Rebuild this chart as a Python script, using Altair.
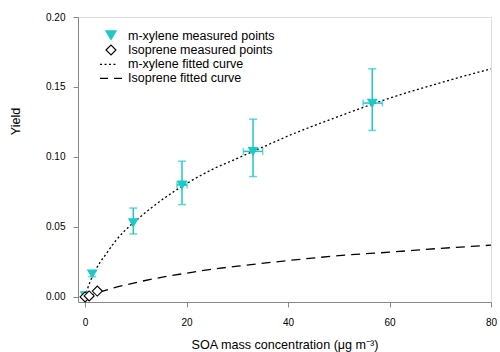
import altair as alt
import pandas as pd

FONT = "Liberation Sans"
CY = "#1cc9c9"

series = ["m-xylene measured points", "Isoprene measured points",
          "m-xylene fitted curve", "Isoprene fitted curve"]

# m-xylene measured points with error bars
mx_x = [0.0, 1.4, 9.5, 19.1, 33.1, 56.6]
mx_y = [0.001, 0.0165, 0.053, 0.080, 0.104, 0.1385]
mx_ylo = [0.0, 0.0145, 0.045, 0.066, 0.086, 0.119]
mx_yhi = [0.002, 0.0185, 0.0635, 0.097, 0.127, 0.163]
mx_xlo = [0.0, 1.4, 9.5, 18.1, 31.2, 54.8]
mx_xhi = [0.0, 1.4, 9.5, 20.1, 35.0, 58.6]

# Isoprene measured points
iso_x = [0.0, 0.8, 2.4]
iso_y = [0.0, 0.0007, 0.0042]

# fitted curves
mxc_x = [0, 0.5, 1, 2, 3, 4, 6, 8, 10, 15, 20, 25, 30, 35, 40, 50, 60, 70, 80]
mxc_y = [0, 0.006, 0.011, 0.019, 0.025, 0.030, 0.040, 0.048, 0.0545, 0.069, 0.081,
         0.091, 0.099, 0.107, 0.115, 0.129, 0.142, 0.153, 0.163]
isc_x = [0, 1, 2, 3, 5, 7.5, 10, 15, 20, 25, 30, 40, 50, 60, 70, 80]
isc_y = [0, 0.0012, 0.0025, 0.0037, 0.0058, 0.0082, 0.0103, 0.014, 0.017, 0.0198,
         0.022, 0.026, 0.0295, 0.032, 0.0347, 0.037]

pts = pd.DataFrame({
    "x": mx_x + iso_x,
    "y": mx_y + iso_y,
    "series": [series[0]] * len(mx_x) + [series[1]] * len(iso_x),
})
err = pd.DataFrame({"x": mx_x, "y": mx_y, "ylo": mx_ylo, "yhi": mx_yhi,
                    "xlo": mx_xlo, "xhi": mx_xhi})
xerr = err[err["xhi"] - err["xlo"] > 0.5]
curves = pd.DataFrame({
    "x": mxc_x + isc_x,
    "y": mxc_y + isc_y,
    "series": [series[2]] * len(mxc_x) + [series[3]] * len(isc_x),
})

xs = alt.Scale(domain=[-1.4, 80], nice=False, zero=False)
ys = alt.Scale(domain=[-0.0036, 0.2], nice=False, zero=False)

xax = alt.Axis(values=[0, 20, 40, 60, 80], title="SOA mass concentration (μg m⁻³)",
               grid=False, labelFlush=False, labelPadding=10, titlePadding=11,
               titleFontWeight="normal", titleFontSize=12.6)
yax = alt.Axis(values=[0, 0.05, 0.1, 0.15, 0.2], format=".2f", title="Yield", grid=False,
               titleX=-63, titleY=104, titleAngle=-90, titleBaseline="middle",
               titleAlign="center", labelFlush=False, labelPadding=8,
               titleFontWeight="normal", titleFontSize=12.6)

X = alt.X("x:Q", scale=xs, axis=xax)
Y = alt.Y("y:Q", scale=ys, axis=yax)

shape_scale = alt.Scale(domain=series[:2], range=["triangle-down", "diamond"])
fill_scale = alt.Scale(domain=series[:2], range=[CY, "white"])
stroke_pts = alt.Scale(domain=series[:2], range=[CY, "black"])
size_scale = alt.Scale(domain=series[:2], range=[80, 100])
dash_scale = alt.Scale(domain=series[2:], range=[[2, 2.5], [9, 6]])

lines = alt.Chart(curves).mark_line(strokeWidth=1.3, interpolate="monotone", color="black").encode(
    x=X, y=Y,
    strokeDash=alt.StrokeDash("series:N", scale=dash_scale, legend=None),
    detail="series:N",
)

ebar_v = alt.Chart(err).mark_rule(color=CY, strokeWidth=1.5).encode(
    x=X, y=alt.Y("ylo:Q", scale=ys), y2="yhi:Q")
cap_lo = alt.Chart(err).mark_tick(color=CY, orient="horizontal", size=8, thickness=1.5).encode(
    x=X, y=alt.Y("ylo:Q", scale=ys))
cap_hi = alt.Chart(err).mark_tick(color=CY, orient="horizontal", size=8, thickness=1.5).encode(
    x=X, y=alt.Y("yhi:Q", scale=ys))
ebar_h = alt.Chart(xerr).mark_rule(color=CY, strokeWidth=1.5).encode(
    x=alt.X("xlo:Q", scale=xs), x2="xhi:Q", y=Y)
capx_lo = alt.Chart(xerr).mark_tick(color=CY, orient="vertical", size=7, thickness=1.5).encode(
    x=alt.X("xlo:Q", scale=xs), y=Y)
capx_hi = alt.Chart(xerr).mark_tick(color=CY, orient="vertical", size=7, thickness=1.5).encode(
    x=alt.X("xhi:Q", scale=xs), y=Y)

points = alt.Chart(pts).mark_point(strokeWidth=1.1, opacity=1).encode(
    x=X, y=Y,
    shape=alt.Shape("series:N", scale=shape_scale, legend=None),
    fill=alt.Fill("series:N", scale=fill_scale, legend=None),
    stroke=alt.Stroke("series:N", scale=stroke_pts, legend=None),
    size=alt.Size("series:N", scale=size_scale, legend=None),
)

# hand-built legend (layout positions in pixels of the plot area)
leg_rows = [18.5, 33.0, 47.3, 61.3]
leg_df = pd.DataFrame({"label": series})
legend_layers = []
for i, lab in enumerate(series):
    d = leg_df[leg_df["label"] == lab]
    legend_layers.append(alt.Chart(d).mark_text(
        align="left", baseline="middle", font=FONT, fontSize=12.5, color="black").encode(
        x=alt.value(50), y=alt.value(leg_rows[i]), text="label:N"))
legend_layers.append(alt.Chart(leg_df.iloc[[0]]).mark_point(
    shape="triangle-down", filled=True, fill=CY, stroke=CY, size=80, opacity=1).encode(
    x=alt.value(33), y=alt.value(leg_rows[0] - 0.5)))
legend_layers.append(alt.Chart(leg_df.iloc[[1]]).mark_point(
    shape="diamond", fill="white", stroke="black", strokeWidth=1.1, size=100, opacity=1).encode(
    x=alt.value(33), y=alt.value(leg_rows[1])))
legend_layers.append(alt.Chart(leg_df.iloc[[2]]).mark_rule(
    color="black", strokeWidth=1.3, strokeDash=[2, 2.5]).encode(
    x=alt.value(22), x2=alt.value(40), y=alt.value(leg_rows[2])))
legend_layers.append(alt.Chart(leg_df.iloc[[3]]).mark_rule(
    color="black", strokeWidth=1.3, strokeDash=[8, 6]).encode(
    x=alt.value(22), x2=alt.value(44), y=alt.value(leg_rows[3])))

chart = alt.layer(lines, ebar_v, cap_lo, cap_hi, ebar_h, capx_lo, capx_hi, points,
                  *legend_layers).properties(
    width=413, height=285,
    autosize=alt.AutoSizeParams(type="none"),
    padding={"left": 78, "top": 17, "right": 9, "bottom": 50},
).configure_view(stroke=None).configure_axis(
    domainColor="black", tickColor="black", labelColor="black", titleColor="black",
    labelFont=FONT, titleFont=FONT, labelFontSize=13, titleFontSize=12.6,
    titleFontWeight="normal", tickSize=8, domainWidth=1, tickWidth=1,
).configure(background="white")

chart.save("out.html", embed_options={"renderer": "svg", "actions": False})
